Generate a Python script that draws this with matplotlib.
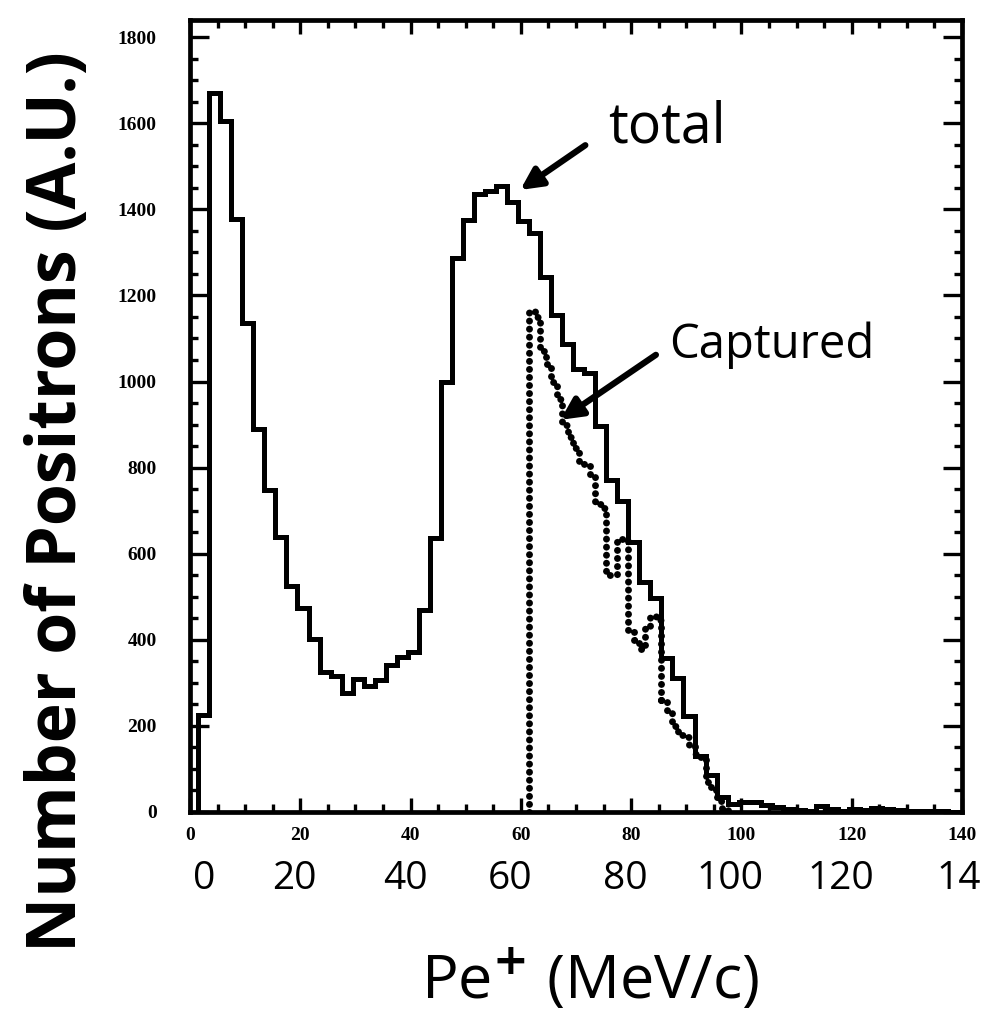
import numpy as np
import matplotlib
matplotlib.use("Agg")
import matplotlib.pyplot as plt
from matplotlib.ticker import MultipleLocator

# total positron spectrum, 2 MeV/c bins starting at 1.5
total_start = 1.5
total_width = 2.0
total_counts = [225, 1670, 1605, 1378, 1137, 890, 749, 638, 524, 473,
                402, 324, 317, 277, 309, 293, 307, 342, 359, 371,
                470, 636, 1000, 1288, 1375, 1436, 1443, 1455, 1416, 1372,
                1346, 1242, 1155, 1088, 1028, 1020, 896, 772, 722, 627,
                535, 497, 357, 312, 222, 130, 85, 35, 18, 23,
                23, 16, 12, 8, 5, 3, 14, 6, 2, 8,
                5, 10, 6, 4, 3, 3, 2, 2, 1]

# captured positrons, 1 MeV/c bins starting at 61.5
capt_start = 61.5
capt_width = 1.0
capt_counts = [1164, 1150, 1070, 1040, 1000, 960, 900, 870, 845, 810,
               808, 780, 715, 705, 550, 550, 633, 633, 420, 400,
               378, 430, 455, 445, 260, 230, 200, 178, 175, 155,
               135, 128, 70, 52, 25, 5]

# hand written tick labels under the axis
hand_ticks = [2.6, 19, 39, 58, 79, 98, 118, 139.5]
hand_labels = ["0", "20", "40", "60", "80", "100", "120", "14"]


def outline(start, width, counts):
    # step outline of a histogram, closed down to zero at both ends
    edges = start + width * np.arange(len(counts) + 1)
    xs = np.repeat(edges, 2)
    ys = np.concatenate([[0], np.repeat(counts, 2), [0]])
    return xs, ys


hand = ["Open Sans", "DejaVu Sans"]
plt.rcParams["font.family"] = "Liberation Serif"
plt.rcParams["font.weight"] = "bold"
plt.rcParams["xtick.labelsize"] = 14
plt.rcParams["ytick.labelsize"] = 14

fig = plt.figure(figsize=(9.92, 10.23), dpi=100)
ax = fig.add_axes([0.1915, 0.2063, 0.7782, 0.7742])

tx, ty = outline(total_start, total_width, total_counts)
ax.plot(tx, ty, color="black", lw=3.6, solid_joinstyle="miter")
cx, cy = outline(capt_start, capt_width, capt_counts)
ax.plot(cx, cy, color="black", lw=5.0, linestyle=(0, (0.01, 1.15)),
        dash_capstyle="round")

ax.set_xlim(0, 140)
ax.set_ylim(0, 1840)

for s in ax.spines.values():
    s.set_linewidth(3.4)
    s.set_zorder(3)

ax.xaxis.set_major_locator(MultipleLocator(20))
ax.xaxis.set_minor_locator(MultipleLocator(5))
ax.yaxis.set_major_locator(MultipleLocator(200))
ax.yaxis.set_minor_locator(MultipleLocator(50))
ax.tick_params(which="both", direction="in", top=True, right=True, width=2.4)
ax.tick_params(which="major", length=10)
ax.tick_params(which="minor", length=6)
ax.tick_params(axis="y", which="major", length=14, pad=24)
ax.tick_params(axis="x", which="major", pad=11)

# hand written annotations
trans = ax.get_xaxis_transform()
for xv, txt in zip(hand_ticks, hand_labels):
    ax.text(xv, -0.085, txt, transform=trans, ha="center", va="center",
            fontsize=28, family=hand, fontweight="normal", clip_on=False)

fig.text(0.595, 0.042, r"Pe$^{+}$ (MeV/c)", ha="center", va="center",
         fontsize=44, family=hand, fontweight="normal")
fig.text(0.058, 0.51, "Number of Positrons (A.U.)", rotation=90,
         ha="center", va="center", fontsize=49, fontweight="bold", family=hand)

arrow = dict(arrowstyle="-|>", lw=4.5, color="black", mutation_scale=32,
             shrinkA=0, shrinkB=0)
ax.text(86.5, 1590, "total", fontsize=40, family=hand, fontweight="normal",
        ha="center", va="center")
ax.annotate("", xy=(59.9, 1445), xytext=(71.7, 1549), arrowprops=arrow)
ax.text(105.5, 1085, "Captured", fontsize=34, family=hand,
        fontweight="normal", ha="center", va="center")
ax.annotate("", xy=(67.2, 911), xytext=(84.5, 1062), arrowprops=arrow)

fig.savefig("out.png", dpi=100, facecolor="white")
